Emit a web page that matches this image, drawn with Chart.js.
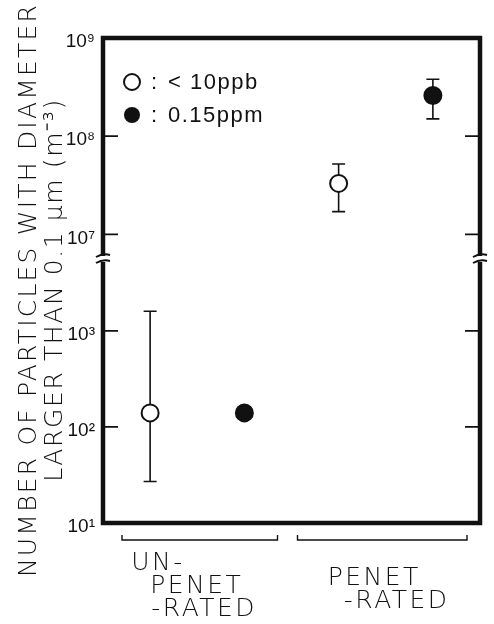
<!DOCTYPE html>
<html>
<head>
<meta charset="utf-8">
<script src="https://cdn.jsdelivr.net/npm/chart.js@4/dist/chart.umd.min.js"></script>
<style>
  html, body { margin: 0; padding: 0; background: #fff; }
  #wrap { width: 494px; height: 624px; }
</style>
</head>
<body>
<div id="wrap"><canvas id="chart"></canvas></div>
<script>
// x groups (two sample types), each holds one point per series
const groupLabels = [['UN-', 'PENET', '-RATED'], ['PENET', '-RATED']];
const seriesNames = ['<10ppb', '0.15ppm'];
const seriesFilled = [false, true];

// particle counts (m^-3): mean, lower and upper end of the range
const ppbMean = [140, 3.3e7];
const ppbLow = [27, 1.7e7];
const ppbHigh = [1600, 5.2e7];
const ppmMean = [140, 2.6e8];
const ppmLow = [null, 1.5e8];
const ppmHigh = [null, 3.8e8];

const yTickValues = [1e1, 1e2, 1e3, 1e7, 1e8, 1e9];
const breakValue = 1e5; // values above this live on the upper segment

const titleLines = ['NUMBER OF PARTICLES WITH DIAMETER', 'LARGER THAN 0.1 \u03bcm (m\u207b\u00b3)'];

const sup = { '0': '\u2070', '1': '\u00b9', '2': '\u00b2', '3': '\u00b3', '4': '\u2074',
              '5': '\u2075', '6': '\u2076', '7': '\u2077', '8': '\u2078', '9': '\u2079' };

const allSeries = [
    { mean: ppbMean, low: ppbLow, high: ppbHigh },
    { mean: ppmMean, low: ppmLow, high: ppmHigh }
];

// one dataset per series per axis segment
const datasets = [];
allSeries.forEach(function (s, si) {
    ['yTop', 'yBot'].forEach(function (axisId) {
        const pts = [];
        s.mean.forEach(function (v, gi) {
            const onTop = v >= breakValue;
            if ((axisId === 'yTop') !== onTop) return;
            pts.push({ x: gi * 2 + si + 0.5, y: v, lo: s.low[gi], hi: s.high[gi] });
        });
        datasets.push({
            label: seriesNames[si],
            data: pts,
            yAxisID: axisId,
            pointStyle: 'circle',
            pointRadius: 8.5,
            pointHoverRadius: 8.5,
            borderWidth: 2,
            borderColor: '#111',
            backgroundColor: seriesFilled[si] ? '#111' : '#fff',
            showLine: false
        });
    });
});

const ink = '#111';
const titleFont = '200 25px "DejaVu Sans", sans-serif';
const narrowFont = '"Liberation Sans", Arial, sans-serif';

const decorPlugin = {
    id: 'decor',
    beforeDatasetsDraw: function (chart) {
        // error bars
        const ctx = chart.ctx;
        ctx.save();
        ctx.strokeStyle = ink;
        ctx.lineWidth = 1.6;
        chart.data.datasets.forEach(function (ds, di) {
            const meta = chart.getDatasetMeta(di);
            const yScale = chart.scales[ds.yAxisID];
            ds.data.forEach(function (p, i) {
                if (p.lo == null || p.hi == null) return;
                const x = meta.data[i].x;
                const y1 = yScale.getPixelForValue(p.lo);
                const y2 = yScale.getPixelForValue(p.hi);
                ctx.beginPath();
                ctx.moveTo(x, y1); ctx.lineTo(x, y2);
                ctx.moveTo(x - 6.5, y1); ctx.lineTo(x + 6.5, y1);
                ctx.moveTo(x - 6.5, y2); ctx.lineTo(x + 6.5, y2);
                ctx.stroke();
            });
        });
        ctx.restore();
    },
    afterDraw: function (chart) {
        const ctx = chart.ctx;
        const a = chart.chartArea;
        const top = chart.scales.yTop, bot = chart.scales.yBot, xs = chart.scales.x;
        ctx.save();
        ctx.strokeStyle = ink;
        ctx.fillStyle = ink;

        // inward tick marks on both sides
        ctx.lineWidth = 1.8;
        [top, bot].forEach(function (sc) {
            sc.ticks.forEach(function (t) {
                const y = sc.getPixelForValue(t.value);
                if (y < a.top + 3 || y > a.bottom - 3) return;
                ctx.beginPath();
                ctx.moveTo(a.left, y); ctx.lineTo(a.left + 15, y);
                ctx.moveTo(a.right - 15, y); ctx.lineTo(a.right, y);
                ctx.stroke();
            });
        });

        // heavy frame
        ctx.lineWidth = 4.5;
        ctx.strokeRect(a.left, a.top, a.right - a.left, a.bottom - a.top);

        // axis break marks between the two stacked segments
        const yb = top.bottom;
        [a.left, a.right].forEach(function (x) {
            ctx.fillStyle = '#fff';
            ctx.fillRect(x - 4, yb - 3, 8, 6);
            ctx.lineWidth = 2;
            ctx.beginPath();
            ctx.moveTo(x - 7, yb - 2); ctx.quadraticCurveTo(x, yb - 6, x + 7, yb - 4);
            ctx.moveTo(x - 7, yb + 4); ctx.quadraticCurveTo(x, yb + 0, x + 7, yb + 2);
            ctx.stroke();
        });
        ctx.fillStyle = ink;

        // legend inside the plot
        ctx.font = '22px ' + narrowFont;
        ctx.textBaseline = 'middle';
        ctx.textAlign = 'left';
        seriesNames.forEach(function (name, i) {
            const cx = a.left + 29, cy = a.top + 44 + i * 33;
            ctx.beginPath();
            ctx.arc(cx, cy, 8, 0, Math.PI * 2);
            ctx.lineWidth = 2;
            if (seriesFilled[i]) ctx.fill(); else ctx.stroke();
            ctx.letterSpacing = '0px';
            ctx.fillText(':', cx + 19, cy + 1);
            ctx.letterSpacing = '1.5px';
            ctx.fillText(i === 0 ? '< ' + name.slice(1) : name, cx + 36, cy + 1);
        });
        ctx.letterSpacing = '0px';

        // group brackets and labels under the plot
        ctx.lineWidth = 1.4;
        const spans = [[0, 2], [2, 4]];
        spans.forEach(function (sp, gi) {
            const x1 = xs.getPixelForValue(sp[0]) + (gi === 0 ? 19 : 6);
            const x2 = xs.getPixelForValue(sp[1]) - (gi === 0 ? 14 : 13);
            const y = a.bottom + 17;
            ctx.beginPath();
            ctx.moveTo(x1, y - 5); ctx.lineTo(x1, y); ctx.lineTo(x2, y); ctx.lineTo(x2, y - 5);
            ctx.stroke();
        });
        ctx.font = titleFont;
        ctx.letterSpacing = '2.5px';
        ctx.textAlign = 'left';
        const c0 = xs.getPixelForValue(1), c1 = xs.getPixelForValue(3);
        const lineX = [[c0 - 66, c0 - 47, c0 - 46], [c1 - 58, c1 - 42]];
        const lineY = [[a.bottom + 40, a.bottom + 63, a.bottom + 86], [a.bottom + 55, a.bottom + 78]];
        groupLabels.forEach(function (lines, gi) {
            lines.forEach(function (t, li) {
                ctx.fillText(t, lineX[gi][li], lineY[gi][li]);
            });
        });

        // rotated y title
        ctx.textAlign = 'center';
        ctx.textBaseline = 'alphabetic';
        ctx.letterSpacing = '2.2px';
        ctx.translate(0, 290);
        ctx.rotate(-Math.PI / 2);
        ctx.fillText(titleLines[0], 0, 36);
        ctx.letterSpacing = '1.6px';
        ctx.fillText(titleLines[1], 0, 62);
        ctx.restore();
    }
};

function logAxis(min, max, weight) {
    return {
        type: 'logarithmic',
        position: 'left',
        stack: 'y',
        stackWeight: weight,
        min: min,
        max: max,
        grid: { display: false, drawTicks: false },
        border: { display: false },
        afterBuildTicks: function (sc) {
            sc.ticks = yTickValues
                .filter(function (v) { return v >= sc.min * 0.999 && v <= sc.max * 1.001; })
                .map(function (v) { return { value: v }; });
        },
        afterFit: function (sc) { sc.width = 103; },
        ticks: {
            padding: 8,
            labelOffset: 4,
            color: ink,
            font: { family: narrowFont, size: 19 },
            callback: function (v) {
                const e = String(Math.round(Math.log10(v)));
                return '10' + e.split('').map(function (d) { return sup[d]; }).join('');
            }
        }
    };
}

new Chart(document.getElementById('chart'), {
    type: 'scatter',
    data: { datasets: datasets },
    options: {
        responsive: true,
        maintainAspectRatio: false,
        animation: false,
        layout: { padding: { top: 38, right: 14, bottom: 101, left: 0 } },
        plugins: { legend: { display: false }, tooltip: { enabled: false } },
        scales: {
            x: { type: 'linear', min: 0, max: 4, display: false },
            // stacked segments are laid out bottom-up in definition order
            yBot: logAxis(10, 5600, 264),
            yTop: logAxis(5.6e6, 1e9, 221)
        }
    },
    plugins: [decorPlugin]
});
</script>
</body>
</html>
